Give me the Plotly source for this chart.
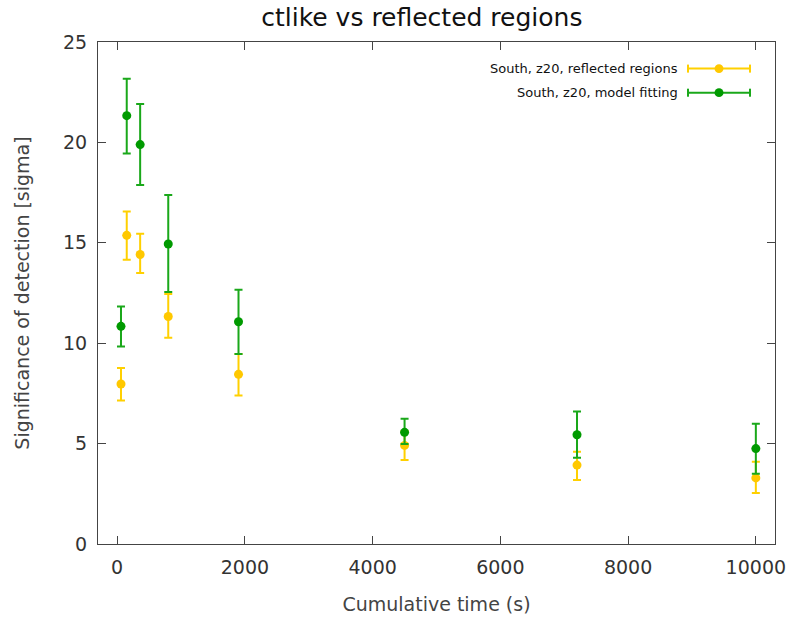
import plotly.graph_objects as go

# Cumulative observation time (s)
time_s = [60, 150, 360, 800, 1900, 4500, 7200, 10000]

# Reflected-regions significance with asymmetric errors
refl_sig = [7.97, 15.37, 14.42, 11.33, 8.45, 4.91, 3.93, 3.29]
refl_err_up = [0.79, 1.19, 1.03, 1.12, 1.01, 0.72, 0.67, 0.81]
refl_err_dn = [0.82, 1.21, 0.92, 1.06, 1.05, 0.73, 0.74, 0.75]

# Model-fitting significance with asymmetric errors
fit_sig = [10.84, 21.33, 19.89, 14.94, 11.07, 5.56, 5.44, 4.75]
fit_err_up = [0.99, 1.84, 2.02, 2.44, 1.59, 0.68, 1.16, 1.24]
fit_err_dn = [1.00, 1.88, 2.01, 2.39, 1.61, 0.58, 1.14, 1.25]

series_names = ["South, z20, reflected regions", "South, z20, model fitting"]
x_ticks = [0, 2000, 4000, 6000, 8000, 10000]
x_tick_text = ["0", "2000", "4000", "6000", "8000", "10000"]
y_ticks = [0, 5, 10, 15, 20, 25]

YELLOW = "#ffd000"
YELLOW_PT = "#ffc800"
GREEN = "#1aa81a"
GREEN_PT = "#009a00"
FONT = "DejaVu Sans"

fig = go.Figure()
for sig, up, dn, name, lc, pc in [
    (refl_sig, refl_err_up, refl_err_dn, series_names[0], YELLOW, YELLOW_PT),
    (fit_sig, fit_err_up, fit_err_dn, series_names[1], GREEN, GREEN_PT),
]:
    fig.add_trace(go.Scatter(
        x=time_s, y=sig, mode="markers", name=name, showlegend=False,
        marker=dict(color=pc, size=9),
        error_y=dict(type="data", symmetric=False, array=up, arrayminus=dn,
                     color=lc, thickness=2, width=4),
    ))

# Key drawn in gnuplot style: right-aligned text, sample line on the right
key_rows = [(0.947, series_names[0], YELLOW, YELLOW_PT),
            (0.899, series_names[1], GREEN, GREEN_PT)]
x_text = 0.8597   # paper fraction of the text's right edge
x0, x1, xm = 0.8715, 0.9631, 0.9173
for yk, name, lc, pc in key_rows:
    fig.add_annotation(xref="paper", yref="paper", x=x_text, y=yk, text=name,
                       showarrow=False, xanchor="right", yanchor="middle",
                       font=dict(family=FONT, size=13, color="#111"))
    fig.add_shape(type="line", xref="paper", yref="paper", x0=x0, x1=x1, y0=yk, y1=yk,
                  line=dict(color=lc, width=2))
    for xc in (x0, x1):
        fig.add_shape(type="line", xref="paper", yref="paper", x0=xc, x1=xc,
                      y0=yk - 0.008, y1=yk + 0.008, line=dict(color=lc, width=2))
    fig.add_shape(type="circle", xref="paper", yref="paper",
                  x0=xm - 0.0066, x1=xm + 0.0066, y0=yk - 0.0088, y1=yk + 0.0088,
                  fillcolor=pc, line=dict(color=pc, width=0))

axis_common = dict(
    showgrid=False, zeroline=False, showline=True, linecolor="#444", linewidth=1,
    mirror="allticks", ticks="inside", ticklen=8, tickcolor="#444", tickwidth=1,
    tickfont=dict(family=FONT, size=19, color="#333"), automargin=False,
)

fig.update_layout(
    width=793, height=618,
    margin=dict(l=98, r=18, t=42, b=74),
    plot_bgcolor="white", paper_bgcolor="white",
    title=dict(text="ctlike vs reflected regions", xref="container", yref="container",
               x=0.532, y=0.972, xanchor="center", yanchor="middle",
               font=dict(family=FONT, size=25, color="#111")),
    xaxis=dict(range=[-300, 10300], tickvals=x_ticks, ticktext=x_tick_text,
               ticklabelstandoff=6,
               title=dict(text="Cumulative time (s)", standoff=20,
                          font=dict(family=FONT, size=19, color="#444")),
               **axis_common),
    yaxis=dict(range=[0, 25], tickvals=y_ticks, ticklabelstandoff=6,
               title=dict(text="Significance of detection [sigma]", standoff=28,
                          font=dict(family=FONT, size=19, color="#444")),
               **axis_common),
)

fig.write_html("out.html")
